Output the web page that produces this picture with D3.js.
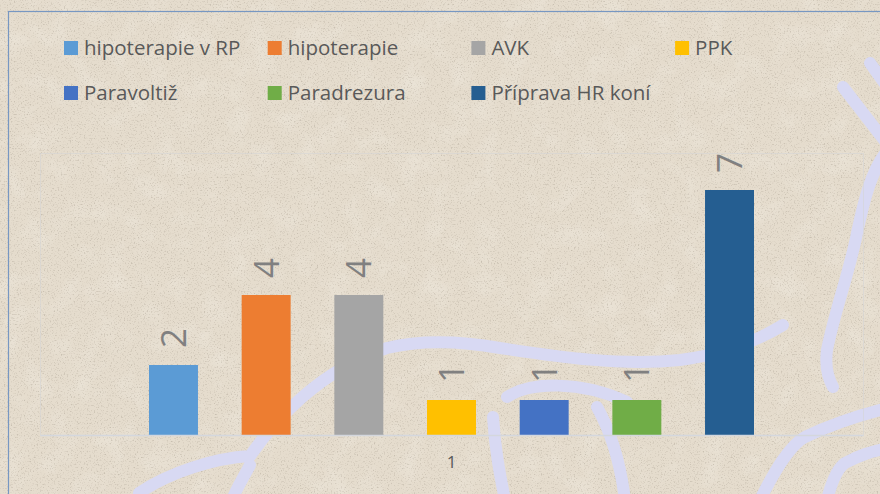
<!DOCTYPE html>
<html>
<head>
<meta charset="utf-8">
<script src="https://cdn.jsdelivr.net/npm/d3@7"></script>
<style>
  body { margin: 0; background: #e5dccd; }
  svg { display: block; font-family: "Open Sans", sans-serif; }
</style>
</head>
<body>
<svg id="chart"></svg>
<script>
'use strict'

// chart values
const categories = ['1']
const seriesNames = ['hipoterapie v RP', 'hipoterapie', 'AVK', 'PPK', 'Paravoltiž', 'Paradrezura', 'Příprava HR koní']
const seriesValues = [2, 4, 4, 1, 1, 1, 7]
const seriesColors = ['#5b9bd5', '#ed7d31', '#a5a5a5', '#ffc000', '#4472c4', '#70ad47', '#255e91']
const yMax = 8

const width = 880, height = 494
const plot = {left: 40, right: 863, top: 155, bottom: 435}

const svg = d3.select('#chart').attr('width', width).attr('height', height)

// paper texture
const defs = svg.append('defs')
const grain = defs.append('filter').attr('id', 'grain').attr('x', 0).attr('y', 0).attr('width', '100%').attr('height', '100%')
grain.append('feTurbulence').attr('type', 'fractalNoise').attr('baseFrequency', 0.7).attr('numOctaves', 2).attr('seed', 7)
grain.append('feColorMatrix').attr('type', 'matrix')
  .attr('values', '0 0 0 0 0.42  0 0 0 0 0.37  0 0 0 0 0.30  3.4 0 0 0 -1.85')
const mottle = defs.append('filter').attr('id', 'mottle').attr('x', 0).attr('y', 0).attr('width', '100%').attr('height', '100%')
mottle.append('feTurbulence').attr('type', 'fractalNoise').attr('baseFrequency', 0.04).attr('numOctaves', 3).attr('seed', 2)
mottle.append('feColorMatrix').attr('type', 'matrix')
  .attr('values', '0 0 0 0 1  0 0 0 0 1  0 0 0 0 0.97  1.2 0 0 0 -0.55')

svg.append('rect').attr('width', width).attr('height', height).attr('fill', '#e5dccd')
svg.append('rect').attr('width', width).attr('height', height).attr('filter', 'url(#mottle)').attr('opacity', 0.35)
svg.append('rect').attr('width', width).attr('height', height).attr('filter', 'url(#grain)').attr('opacity', 0.5)

// decorative strokes of the background
const strokes = [
  'M139,493 C170,472 215,458 250,456 C275,420 320,370 387,348 C420,340 460,341 500,348 C560,357 620,366 680,360 C720,355 755,342 783,325',
  'M250,465 C245,475 238,485 232,500',
  'M507,397 C530,382 580,380 627,402',
  'M493,417 C495,450 500,475 505,500',
  'M597,407 C610,430 620,460 625,500',
  'M888,150 C870,170 862,210 857,233 C850,270 835,310 827,350 C825,365 828,378 833,387',
  'M843,87 L888,145',
  'M870,63 L888,88',
  'M760,500 C775,470 790,445 805,437 C830,425 860,415 888,408',
  'M827,500 C832,480 838,468 845,463 C860,455 870,452 888,448'
]
svg.append('g').selectAll('path').data(strokes).enter().append('path')
  .attr('d', d => d)
  .attr('fill', 'none')
  .attr('stroke', '#d8d9f3')
  .attr('stroke-width', 12)
  .attr('stroke-linecap', 'round')

// chart frame
svg.append('rect')
  .attr('x', 8.5).attr('y', 11.5).attr('width', 900).attr('height', 520)
  .attr('fill', 'none').attr('stroke', '#7797c2').attr('stroke-width', 1.2)

// plot area outline (very faint)
svg.append('rect')
  .attr('x', plot.left + 0.5).attr('y', 153.5)
  .attr('width', plot.right - plot.left).attr('height', plot.bottom - 153)
  .attr('fill', 'none').attr('stroke', '#d6d6d6').attr('stroke-opacity', 0.6)

// scales
const x0 = d3.scaleBand().domain(categories).range([plot.left, plot.right])
const x1 = d3.scaleBand().domain(seriesNames).range([-324.35, 324.35]).paddingInner(0.4716).paddingOuter(0.2358)
const y = d3.scaleLinear().domain([0, yMax]).range([plot.bottom, plot.top])

const series = seriesNames.map((name, i) => ({name: name, value: seriesValues[i], color: seriesColors[i]}))

const groups = svg.selectAll('.cat')
  .data(categories)
  .enter().append('g')
  .attr('class', 'cat')
  .attr('transform', d => 'translate(' + (x0(d) + x0.bandwidth() / 2) + ',0)')

groups.selectAll('rect')
  .data(series)
  .enter().append('rect')
  .attr('x', d => x1(d.name))
  .attr('y', d => y(d.value))
  .attr('width', x1.bandwidth())
  .attr('height', d => y(0) - y(d.value))
  .attr('fill', d => d.color)

// data labels, rotated
groups.selectAll('text')
  .data(series)
  .enter().append('text')
  .attr('transform', d => 'translate(' + (x1(d.name) + x1.bandwidth() / 2) + ',' + (y(d.value) - 17) + ') rotate(-90)')
  .attr('dy', '0.36em')
  .attr('font-size', 35)
  .attr('fill', '#808080')
  .text(d => d.value)

// x axis
const xAxis = svg.append('g')
  .attr('transform', 'translate(0,' + plot.bottom + ')')
  .call(d3.axisBottom(x0).tickSize(0).tickPadding(21))
xAxis.select('.domain').attr('stroke', '#d4d7dd').attr('stroke-width', 1.5)
xAxis.selectAll('text')
  .attr('font-family', '"Open Sans", sans-serif')
  .attr('font-size', 17)
  .attr('fill', '#595959')

// legend
const legend = svg.append('g').selectAll('g')
  .data(series)
  .enter().append('g')
  .attr('transform', (d, i) => 'translate(' + (64 + (i % 4) * 203.7) + ',' + (48 + Math.floor(i / 4) * 45) + ')')
legend.append('rect')
  .attr('y', -7).attr('width', 14).attr('height', 14)
  .attr('fill', d => d.color)
legend.append('text')
  .attr('x', 20).attr('dy', '0.35em')
  .attr('font-size', 20.5)
  .attr('fill', '#595959')
  .text(d => d.name)
</script>
</body>
</html>
